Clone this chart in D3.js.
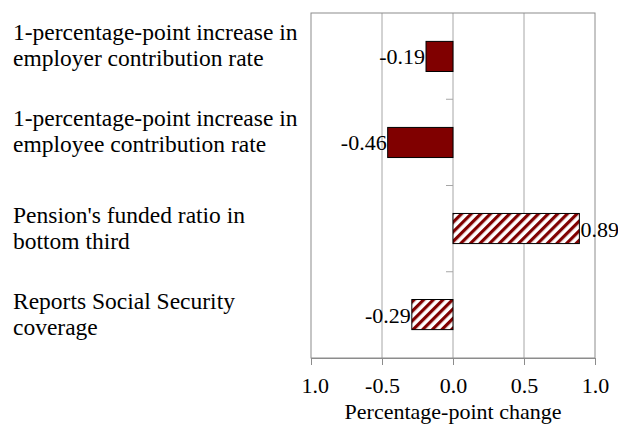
<!DOCTYPE html>
<html><head><meta charset="utf-8">
<script src="https://cdn.jsdelivr.net/npm/d3@7"></script>
<style>body{margin:0;background:#fff}svg{display:block}</style>
</head><body>
<svg id="c" width="618" height="430"></svg>
<script>
const categories = [
  ["1-percentage-point increase in", "employer contribution rate"],
  ["1-percentage-point increase in", "employee contribution rate"],
  ["Pension's funded ratio in", "bottom third"],
  ["Reports Social Security", "coverage"]
];
const values = [-0.19, -0.46, 0.89, -0.29];
const valueLabels = ["-0.19", "-0.46", "0.89", "-0.29"];
const hatched = [false, false, true, true];
const tickValues = [-1, -0.5, 0, 0.5, 1];
const tickLabels = ["-1.0", "-0.5", "0.0", "0.5", "1.0"];
const axisTitle = "Percentage-point change";

const svg = d3.select("#c");
const font = "'Liberation Serif', 'Times New Roman', serif";
const red = "#800000";
const L = 311, R = 595, T = 13, B = 358;

const x = d3.scaleLinear().domain([-1, 1]).range([L, R]);
const y = d3.scaleBand().domain(d3.range(categories.length)).range([T, B]).paddingInner(0.65).paddingOuter(0.33);
const yb = d3.scaleBand().domain(d3.range(categories.length)).range([T, B]);

const defs = svg.append("defs");
const pat = defs.append("pattern").attr("id", "hatch").attr("patternUnits", "userSpaceOnUse")
  .attr("width", 6.8).attr("height", 6.8).attr("patternTransform", "rotate(45)");
pat.append("rect").attr("width", 6.8).attr("height", 6.8).attr("fill", "#fff");
pat.append("rect").attr("width", 3.2).attr("height", 6.8).attr("fill", red);
defs.append("clipPath").attr("id", "tclip").append("rect").attr("x", 303).attr("y", -5).attr("width", 315).attr("height", 50);

// gridlines
svg.append("g").selectAll("line").data(tickValues.slice(1, -1)).join("line")
  .attr("x1", d => x(d)).attr("x2", d => x(d)).attr("y1", T).attr("y2", B)
  .attr("stroke", "#a6a6a6").attr("stroke-width", 1);
// frame
svg.append("rect").attr("x", L).attr("y", T).attr("width", R - L).attr("height", B - T)
  .attr("fill", "none").attr("stroke", "#8c8c8c").attr("stroke-width", 1);

// category ticks on zero line
svg.append("g").selectAll("line").data(d3.range(1, categories.length)).join("line")
  .attr("x1", x(0) - 7).attr("x2", x(0)).attr("y1", d => yb(d)).attr("y2", d => yb(d))
  .attr("stroke", "#a6a6a6");

// bottom axis
const ax = svg.append("g").attr("transform", `translate(0,${B})`).attr("clip-path", "url(#tclip)")
  .call(d3.axisBottom(x).tickValues(tickValues).tickSize(7).tickPadding(12)
    .tickFormat((d, i) => tickLabels[i]));
ax.select(".domain").attr("stroke", "#8c8c8c");
ax.selectAll(".tick line").attr("stroke", "#8c8c8c");
ax.selectAll(".tick text").attr("font-family", font).attr("font-size", 22).attr("fill", "#000");

svg.append("text").attr("x", x(0)).attr("y", 419).attr("text-anchor", "middle")
  .attr("font-family", font).attr("font-size", 22).text(axisTitle);

// bars
svg.append("g").selectAll("rect").data(values).join("rect")
  .attr("x", d => x(Math.min(0, d))).attr("width", d => Math.abs(x(d) - x(0)))
  .attr("y", (d, i) => y(i)).attr("height", y.bandwidth())
  .attr("fill", (d, i) => hatched[i] ? "url(#hatch)" : red)
  .attr("stroke", "#000").attr("stroke-width", 1);

// value labels
svg.append("g").selectAll("text").data(values).join("text")
  .attr("x", d => d < 0 ? x(d) - 1 : x(d) + 1)
  .attr("y", (d, i) => y(i) + y.bandwidth() / 2 + 8)
  .attr("text-anchor", d => d < 0 ? "end" : "start")
  .attr("font-family", font).attr("font-size", 22).text((d, i) => valueLabels[i]);

// category labels
const cg = svg.append("g");
categories.forEach((lines, i) => {
  const base = yb(i) + yb.bandwidth() / 2 + (i < 2 ? -16 : -6);
  lines.forEach((s, j) => {
    cg.append("text").attr("x", 13).attr("y", base + j * 26)
      .attr("font-family", font).attr("font-size", 23.5).text(s);
  });
});
</script>
</body></html>
